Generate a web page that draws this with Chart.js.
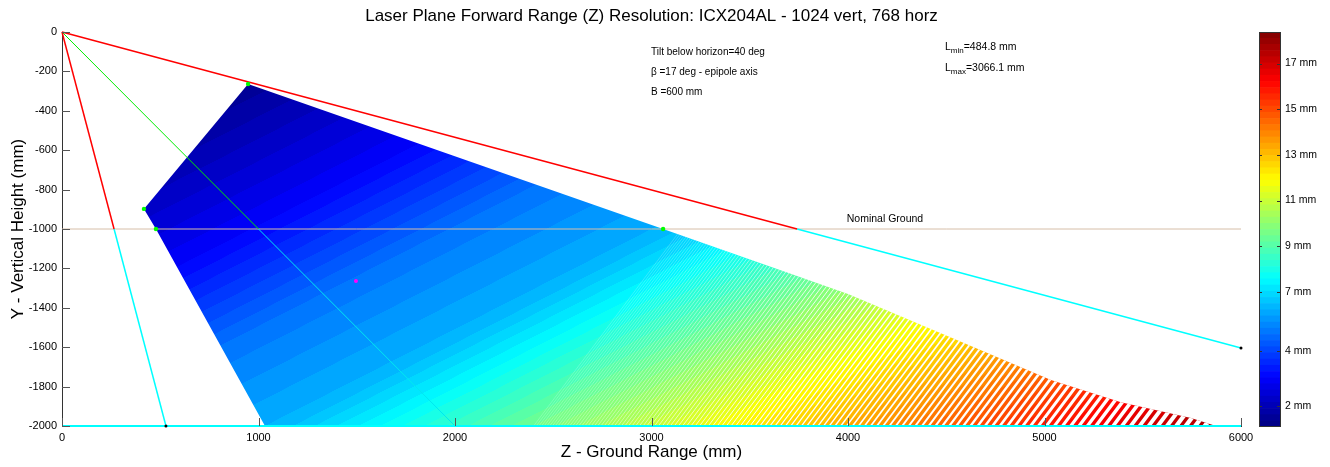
<!DOCTYPE html>
<html>
<head>
<meta charset="utf-8">
<script src="https://cdn.jsdelivr.net/npm/chart.js@4.4.0/dist/chart.umd.min.js"></script>
<style>
html, body { margin: 0; padding: 0; background: #fff; }
#wrap { position: relative; width: 1330px; height: 467px; }
#main { position: absolute; left: 0; top: 0; }
#bar { position: absolute; left: 1230px; top: 0; }
</style>
</head>
<body>
<div id="wrap">
  <canvas id="main" width="1330" height="467"></canvas>
  <canvas id="bar" width="100" height="467"></canvas>
</div>
<script>
"use strict";

// ---- data (mm) ----
const regionZ = [947, 417, 478, 1033, 5873, 5746, 5389, 5033, 4500, 4000, 3654, 3059, 947];
const regionY = [-264, -898, -1000, -2000, -2000, -1960, -1880, -1766, -1540, -1330, -1208, -1000, -264];

const upperRedZ = [0, 3741];     const upperRedY = [0, -1000];
const upperCyanZ = [3741, 6000]; const upperCyanY = [-1000, -1604];
const lowerRedZ = [0, 265];      const lowerRedY = [0, -1000];
const lowerCyanZ = [265, 529];   const lowerCyanY = [-1000, -2000];
const axisGreenZ = [0, 1000];    const axisGreenY = [0, -1000];
const axisCyanZ = [1000, 2000];  const axisCyanY = [-1000, -2000];
const groundZ = [0, 6000];       const groundY = [-1000, -1000];
const floorZ = [0, 6000];        const floorY = [-2000, -2000];

const cornerZ = [947, 417, 478, 3059];
const cornerY = [-264, -898, -1000, -1000];
const centreZ = [1496];
const centreY = [-1264];
const endZ = [529, 6000];
const endY = [-2000, -1604];

// colour bar (resolution, mm)
const cbMin = 1.08;
const cbMax = 18.38;
const cbTickVals = [2, 4.4, 7, 9, 11, 13, 15, 17];
const cbTickLabels = ["2 mm", "4 mm", "7 mm", "9 mm", "11 mm", "13 mm", "15 mm", "17 mm"];

// colour of the field: linear ramp between two points, with a bend at the low end
const rampStart = [227.6, -445.5];
const rampEnd = [2062, -4036.5];
const rampKnots = [0, 0.04, 0.2, 0.324, 0.44, 0.52, 1.0];
const colourKnots = [0, 0.02, 0.12, 0.24, 0.3, 0.4, 1.0];

const titleText = "Laser Plane Forward Range (Z) Resolution: ICX204AL - 1024 vert, 768 horz";
const noteLines = ["Tilt below horizon=40 deg", "\u03b2 =17 deg - epipole axis", "B =600 mm"];

const FONT = '"Liberation Sans", Arial, sans-serif';

function pts(zs, ys) {
    return zs.map((z, i) => ({x: z, y: ys[i]}));
}

function clamp(v) {
    return Math.max(0, Math.min(1, v));
}

function jet(t) {
    const r = clamp(1.5 - Math.abs(4 * t - 3));
    const g = clamp(1.5 - Math.abs(4 * t - 2));
    const b = clamp(1.5 - Math.abs(4 * t - 1));
    return "rgb(" + Math.round(r * 255) + "," + Math.round(g * 255) + "," + Math.round(b * 255) + ")";
}

function interp(v, xa, ya) {
    for (let i = 1; i < xa.length; i++) {
        if (v <= xa[i]) {
            const f = (v - xa[i - 1]) / (xa[i] - xa[i - 1]);
            return ya[i - 1] + f * (ya[i] - ya[i - 1]);
        }
    }
    return ya[ya.length - 1];
}

function fieldFill(context) {
    const chart = context.chart;
    if (!chart.chartArea) return "rgba(0,0,0,0)";
    const xs = chart.scales.x, ys = chart.scales.y;
    const grad = chart.ctx.createLinearGradient(
        xs.getPixelForValue(rampStart[0]), ys.getPixelForValue(rampStart[1]),
        xs.getPixelForValue(rampEnd[0]), ys.getPixelForValue(rampEnd[1]));
    for (let k = 0; k < 64; k++) {
        const t0 = interp(k / 64, colourKnots, rampKnots);
        const t1 = interp((k + 1) / 64, colourKnots, rampKnots);
        const col = jet((k + 0.5) / 64);
        grad.addColorStop(Math.min(1, t0 + 0.0001 * (k > 0)), col);
        grad.addColorStop(t1, col);
    }
    return grad;
}

// white gaps between the sampled rows in the far part of the field
const hatchPlugin = {
    id: "hatch",
    afterDatasetDraw(chart, args) {
        if (chart.data.datasets[args.index].label !== "field") return;
        const xs = chart.scales.x, ys = chart.scales.y, c = chart.ctx;
        c.save();
        c.beginPath();
        regionZ.forEach((z, i) => {
            const px = xs.getPixelForValue(z), py = ys.getPixelForValue(regionY[i]);
            if (i === 0) c.moveTo(px, py); else c.lineTo(px, py);
        });
        c.closePath();
        c.clip();
        c.strokeStyle = "#fff";
        const yb = ys.getPixelForValue(-2000);
        let px = xs.getPixelForValue(2400);
        const pEnd = xs.getPixelForValue(6000);
        const p0 = px;
        while (px < pEnd) {
            const t = (px - p0) / (pEnd - p0);
            const step = 2.6 + 7.5 * t;
            const gap = step * (0.1 + 0.5 * t);
            c.lineWidth = gap * 0.8;
            c.beginPath();
            c.moveTo(px - 0.6 * 10, yb + 0.8 * 10);
            c.lineTo(px + 0.6 * 400, yb - 0.8 * 400);
            c.stroke();
            px += step;
        }
        c.restore();
    }
};

const decoPlugin = {
    id: "deco",
    afterDatasetsDraw(chart) {
        const c = chart.ctx, xs = chart.scales.x, ys = chart.scales.y, a = chart.chartArea;
        c.save();
        // inward tick marks
        c.strokeStyle = "#555";
        c.lineWidth = 1;
        ys.ticks.forEach(t => {
            const py = Math.round(ys.getPixelForValue(t.value)) + 0.5;
            c.beginPath(); c.moveTo(a.left, py); c.lineTo(a.left + 8, py); c.stroke();
        });
        xs.ticks.forEach(t => {
            const px = Math.round(xs.getPixelForValue(t.value)) + 0.5;
            c.beginPath(); c.moveTo(px, a.bottom); c.lineTo(px, a.bottom - 8); c.stroke();
        });
        // notes
        c.fillStyle = "#000";
        c.textBaseline = "middle";
        c.textAlign = "left";
        c.font = "10px " + FONT;
        noteLines.forEach((s, i) => c.fillText(s, 651, 52 + i * 20));
        const subText = (base, sub, rest, x, y) => {
            c.font = "10.5px " + FONT;
            c.fillText(base, x, y);
            let w = c.measureText(base).width;
            c.font = "8px " + FONT;
            c.fillText(sub, x + w, y + 4);
            w += c.measureText(sub).width;
            c.font = "10.5px " + FONT;
            c.fillText(rest, x + w, y);
        };
        subText("L", "min", "=484.8 mm", 945, 47);
        subText("L", "max", "=3066.1 mm", 945, 68);
        c.font = "10.5px " + FONT;
        c.textAlign = "center";
        c.fillText("Nominal Ground", xs.getPixelForValue(4188), ys.getPixelForValue(-950));
        c.restore();
    }
};

function lineSet(label, zs, ys, color, width, order) {
    return {
        label: label, data: pts(zs, ys), showLine: true, borderColor: color,
        borderWidth: width, pointRadius: 0, fill: false, order: order, clip: false
    };
}

function dotSet(label, zs, ys, color, r) {
    return {
        label: label, data: pts(zs, ys), showLine: false, pointRadius: r,
        pointBackgroundColor: color, pointBorderWidth: 0, order: 0, clip: false
    };
}

function draw() {
    const ctx = document.getElementById("main").getContext("2d");
    new Chart(ctx, {
        type: "scatter",
        data: {
            datasets: [
                {
                    label: "field", data: pts(regionZ, regionY), showLine: true,
                    fill: "shape", backgroundColor: fieldFill, borderWidth: 0,
                    borderColor: "rgba(0,0,0,0)", pointRadius: 0, order: 10
                },
                lineSet("ground", groundZ, groundY, "#d6bea8", 1, 6),
                lineSet("upperRed", upperRedZ, upperRedY, "#ff0000", 1.5, 3),
                lineSet("upperCyan", upperCyanZ, upperCyanY, "#00ffff", 1.5, 3),
                lineSet("lowerRed", lowerRedZ, lowerRedY, "#ff0000", 1.5, 3),
                lineSet("lowerCyan", lowerCyanZ, lowerCyanY, "#00ffff", 1.5, 3),
                lineSet("axisGreen", axisGreenZ, axisGreenY, "#00ee00", 1, 3),
                lineSet("axisCyan", axisCyanZ, axisCyanY, "#00e8f0", 1, 3),
                lineSet("floor", floorZ, floorY, "#00ffff", 2, 2),
                dotSet("corners", cornerZ, cornerY, "#00ff00", 2.2),
                dotSet("centre", centreZ, centreY, "#ff00ff", 2),
                dotSet("ends", endZ, endY, "#000", 1.5)
            ]
        },
        options: {
            responsive: false,
            animation: false,
            events: [],
            layout: {padding: {left: 0, right: 89, top: 0, bottom: 0}},
            plugins: {
                legend: {display: false},
                tooltip: {enabled: false},
                title: {
                    display: true, text: titleText, color: "#000", fullSize: false,
                    font: {family: FONT, size: 17, weight: "normal"},
                    padding: {top: 6, bottom: 5.6}
                }
            },
            scales: {
                x: {
                    type: "linear", min: 0, max: 6000,
                    ticks: {stepSize: 1000, color: "#000", padding: 5, maxRotation: 0, font: {family: FONT, size: 11},
                            callback: v => String(v)},
                    grid: {display: false, drawTicks: false},
                    border: {display: true, color: "#333"},
                    title: {display: true, text: "Z - Ground Range (mm)", color: "#000", font: {family: FONT, size: 17}, padding: {top: 0, bottom: 4}},
                    afterFit: s => { s.height = 41; }
                },
                y: {
                    type: "linear", min: -2000, max: 0,
                    ticks: {stepSize: 200, color: "#000", padding: 5, font: {family: FONT, size: 11},
                            callback: v => String(v)},
                    grid: {display: false, drawTicks: false},
                    border: {display: true, color: "#333"},
                    title: {display: true, text: "Y - Vertical Height (mm)", color: "#000", font: {family: FONT, size: 17}, padding: {top: 8, bottom: 0}},
                    afterFit: s => { s.width = 62; }
                }
            }
        },
        plugins: [hatchPlugin, decoPlugin]
    });

    // colour bar
    const barSets = [];
    for (let k = 0; k < 64; k++) {
        const lo = cbMin + (cbMax - cbMin) * k / 64;
        const hi = cbMin + (cbMax - cbMin) * (k + 1) / 64;
        barSets.push({
            data: [[lo, hi]], backgroundColor: jet((k + 0.5) / 64), borderWidth: 0,
            barPercentage: 1, categoryPercentage: 1
        });
    }
    const cbFrame = {
        id: "cbFrame",
        afterDatasetsDraw(chart) {
            const c = chart.ctx, a = chart.chartArea, ys = chart.scales.y;
            c.save();
            c.strokeStyle = "#333";
            c.lineWidth = 1;
            c.strokeRect(a.left + 0.5, a.top + 0.5, a.right - a.left - 1, a.bottom - a.top - 1);
            cbTickVals.forEach(v => {
                const py = Math.round(ys.getPixelForValue(v)) + 0.5;
                c.beginPath(); c.moveTo(a.right - 4, py); c.lineTo(a.right, py); c.stroke();
                c.beginPath(); c.moveTo(a.left, py); c.lineTo(a.left + 3, py); c.stroke();
            });
            c.restore();
        }
    };
    new Chart(document.getElementById("bar").getContext("2d"), {
        type: "bar",
        data: {labels: [""], datasets: barSets},
        options: {
            responsive: false,
            animation: false,
            events: [],
            layout: {padding: {left: 29, right: 0, top: 32, bottom: 40}},
            plugins: {legend: {display: false}, tooltip: {enabled: false}},
            scales: {
                x: {stacked: true, display: false},
                y: {
                    position: "right", min: cbMin, max: cbMax,
                    afterBuildTicks: s => { s.ticks = cbTickVals.map(v => ({value: v})); },
                    ticks: {color: "#000", padding: 4, font: {family: FONT, size: 10.5}, callback: (v, i) => cbTickLabels[i]},
                    grid: {display: false, drawTicks: false},
                    border: {display: false},
                    afterFit: s => { s.width = 49; }
                }
            }
        },
        plugins: [cbFrame]
    });
}

draw();
</script>
</body>
</html>
